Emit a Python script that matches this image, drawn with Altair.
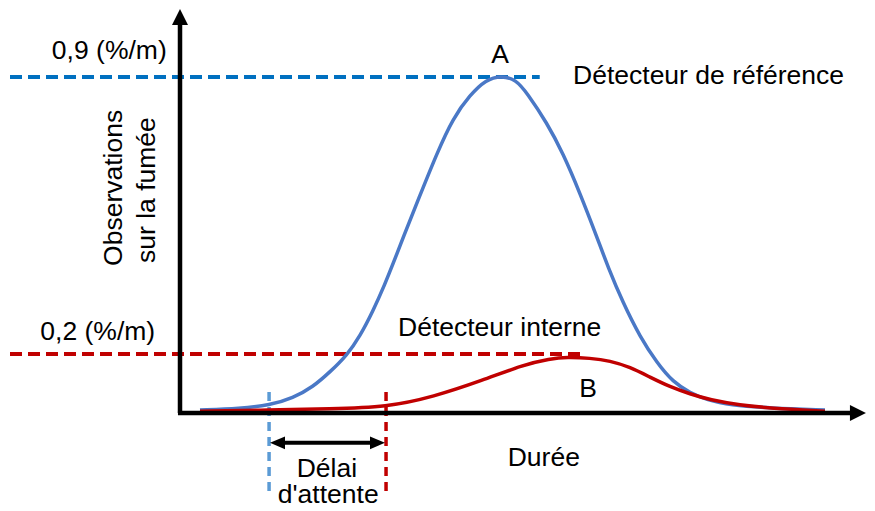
import altair as alt
import pandas as pd

# ---- data (time in arbitrary units 0..100, smoke in %/m-like units) ----
time_a = [2.94, 8.82, 13.24, 16.62, 19.56, 22.06, 24.56, 26.47, 28.38, 30.15, 31.32, 32.79, 35.29,
          37.79, 40.15, 42.65, 45.00, 47.21, 49.41, 51.03, 53.97, 56.32, 58.82, 61.32, 62.94,
          65.15, 67.65, 70.15, 72.50, 75.00, 77.50, 80.88, 86.76, 94.85]
smoke_a = [0.008, 0.012, 0.021, 0.040, 0.070, 0.110, 0.155, 0.206, 0.273, 0.346, 0.399, 0.469, 0.583,
           0.696, 0.790, 0.852, 0.893, 0.904, 0.893, 0.857, 0.777, 0.696, 0.589, 0.471, 0.391,
           0.295, 0.204, 0.134, 0.083, 0.054, 0.035, 0.021, 0.013, 0.008]

time_b = [2.94, 13.09, 22.06, 30.44, 37.21, 44.56, 50.44, 54.41, 56.91, 60.29, 63.24, 66.18, 69.12,
          72.06, 75.00, 77.94, 82.35, 86.76, 94.85]
smoke_b = [0.005, 0.008, 0.011, 0.016, 0.043, 0.088, 0.129, 0.145, 0.150, 0.147, 0.140, 0.123, 0.096,
           0.070, 0.051, 0.035, 0.021, 0.013, 0.005]

ref_level = 0.9
int_level = 0.158
t_alarm_a = 13.1
t_alarm_b = 30.3

centre_labels = ["0,9 (%/m)", "0,2 (%/m)", "A", "B", "Durée", "Délai", "d'attente"]
centre_x = [-10.4, -12.1, 47.06, 60.0, 53.5, 21.6, 21.8]
centre_y = [0.948, 0.196, 0.9375, 0.043, -0.142, -0.171, -0.241]

left_labels = ["Détecteur de référence", "Détecteur interne"]
left_x = [57.8, 32.06]
left_y = [0.881, 0.206]

rot_labels = ["Observations", "sur la fumée"]
rot_x = [-8.53, -3.68]
rot_y = [0.603, 0.597]

FONT = "Liberation Sans"
FS = 26.5

xs = alt.Scale(domain=[0, 100], nice=False, zero=False)
ys = alt.Scale(domain=[0, 1.05], nice=False, zero=False)


def X(f="x"):
    return alt.X(f"{f}:Q", scale=xs, axis=None)


def Y(f="y"):
    return alt.Y(f"{f}:Q", scale=ys, axis=None)


df_a = pd.DataFrame({"x": time_a, "y": smoke_a})
df_b = pd.DataFrame({"x": time_b, "y": smoke_b})

curve_a = alt.Chart(df_a).mark_line(color="#4a78c6", strokeWidth=3.5, interpolate="basis").encode(x=X(), y=Y())
curve_b = alt.Chart(df_b).mark_line(color="#c00000", strokeWidth=3.5, interpolate="basis").encode(x=X(), y=Y())

# horizontal dashed level lines
ref_line = alt.Chart(pd.DataFrame({"x": [-25.0], "x2": [52.9], "y": [ref_level]})).mark_rule(
    color="#0070c0", strokeWidth=4, strokeDash=[12, 6]).encode(x=X(), x2="x2:Q", y=Y())
int_line = alt.Chart(pd.DataFrame({"x": [-25.0], "x2": [59.3], "y": [int_level]})).mark_rule(
    color="#c00000", strokeWidth=4, strokeDash=[12, 6]).encode(x=X(), x2="x2:Q", y=Y())

# vertical dashed alarm lines
va = alt.Chart(pd.DataFrame({"x": [t_alarm_a], "y": [0.056], "y2": [-0.214]})).mark_rule(
    color="#5b9bd5", strokeWidth=3.5, strokeDash=[9, 6]).encode(x=X(), y=Y(), y2="y2:Q")
vb = alt.Chart(pd.DataFrame({"x": [t_alarm_b], "y": [0.056], "y2": [-0.214]})).mark_rule(
    color="#c00000", strokeWidth=3.5, strokeDash=[9, 6]).encode(x=X(), y=Y(), y2="y2:Q")

# axes drawn as rules
axes_df = pd.DataFrame({"x": [0.0, -0.3], "x2": [0.0, 99.0], "y": [0.0, 0.0], "y2": [1.045, 0.0]})
axes = alt.Chart(axes_df).mark_rule(color="black", strokeWidth=4.5).encode(
    x=X(), x2="x2:Q", y=Y(), y2="y2:Q")

# delay double arrow shaft
shaft = alt.Chart(pd.DataFrame({"x": [14.5], "x2": [28.9], "y": [-0.080]})).mark_rule(
    color="black", strokeWidth=4).encode(x=X(), x2="x2:Q", y=Y())

heads_df = pd.DataFrame({
    "x": [0.0, 99.7, 14.34, 29.04],
    "y": [1.061, 0.0, -0.080, -0.080],
    "shape": ["M0,-1L1,1L-1,1Z", "M1,0L-1,-1L-1,1Z", "M-1,0L1,-0.85L1,0.85Z", "M1,0L-1,-0.85L-1,0.85Z"],
    "size": [256, 256, 225, 225],
})
heads = alt.Chart(heads_df).mark_point(filled=True, color="black", opacity=1, strokeWidth=0).encode(
    x=X(), y=Y(), shape=alt.Shape("shape:N", scale=None), size=alt.Size("size:Q", scale=None))

t_centre = alt.Chart(pd.DataFrame({"t": centre_labels, "x": centre_x, "y": centre_y})).mark_text(
    font=FONT, fontSize=FS, align="center", baseline="alphabetic", color="black").encode(x=X(), y=Y(), text="t:N")
t_left = alt.Chart(pd.DataFrame({"t": left_labels, "x": left_x, "y": left_y})).mark_text(
    font=FONT, fontSize=FS, align="left", baseline="alphabetic", color="black").encode(x=X(), y=Y(), text="t:N")
t_rot = alt.Chart(pd.DataFrame({"t": rot_labels, "x": rot_x, "y": rot_y})).mark_text(
    font=FONT, fontSize=FS, align="center", baseline="alphabetic", angle=270, color="black").encode(
    x=X(), y=Y(), text="t:N")

chart = alt.layer(
    ref_line, int_line, va, vb, curve_a, curve_b, axes, shaft, heads, t_centre, t_left, t_rot
).properties(
    width=680, height=392,
    autosize=alt.AutoSizeParams(type="none"),
    padding={"left": 172, "top": 13, "right": 7, "bottom": 90},
).configure_view(stroke=None)

chart.save("out.html", embed_options={"renderer": "svg", "actions": False})
